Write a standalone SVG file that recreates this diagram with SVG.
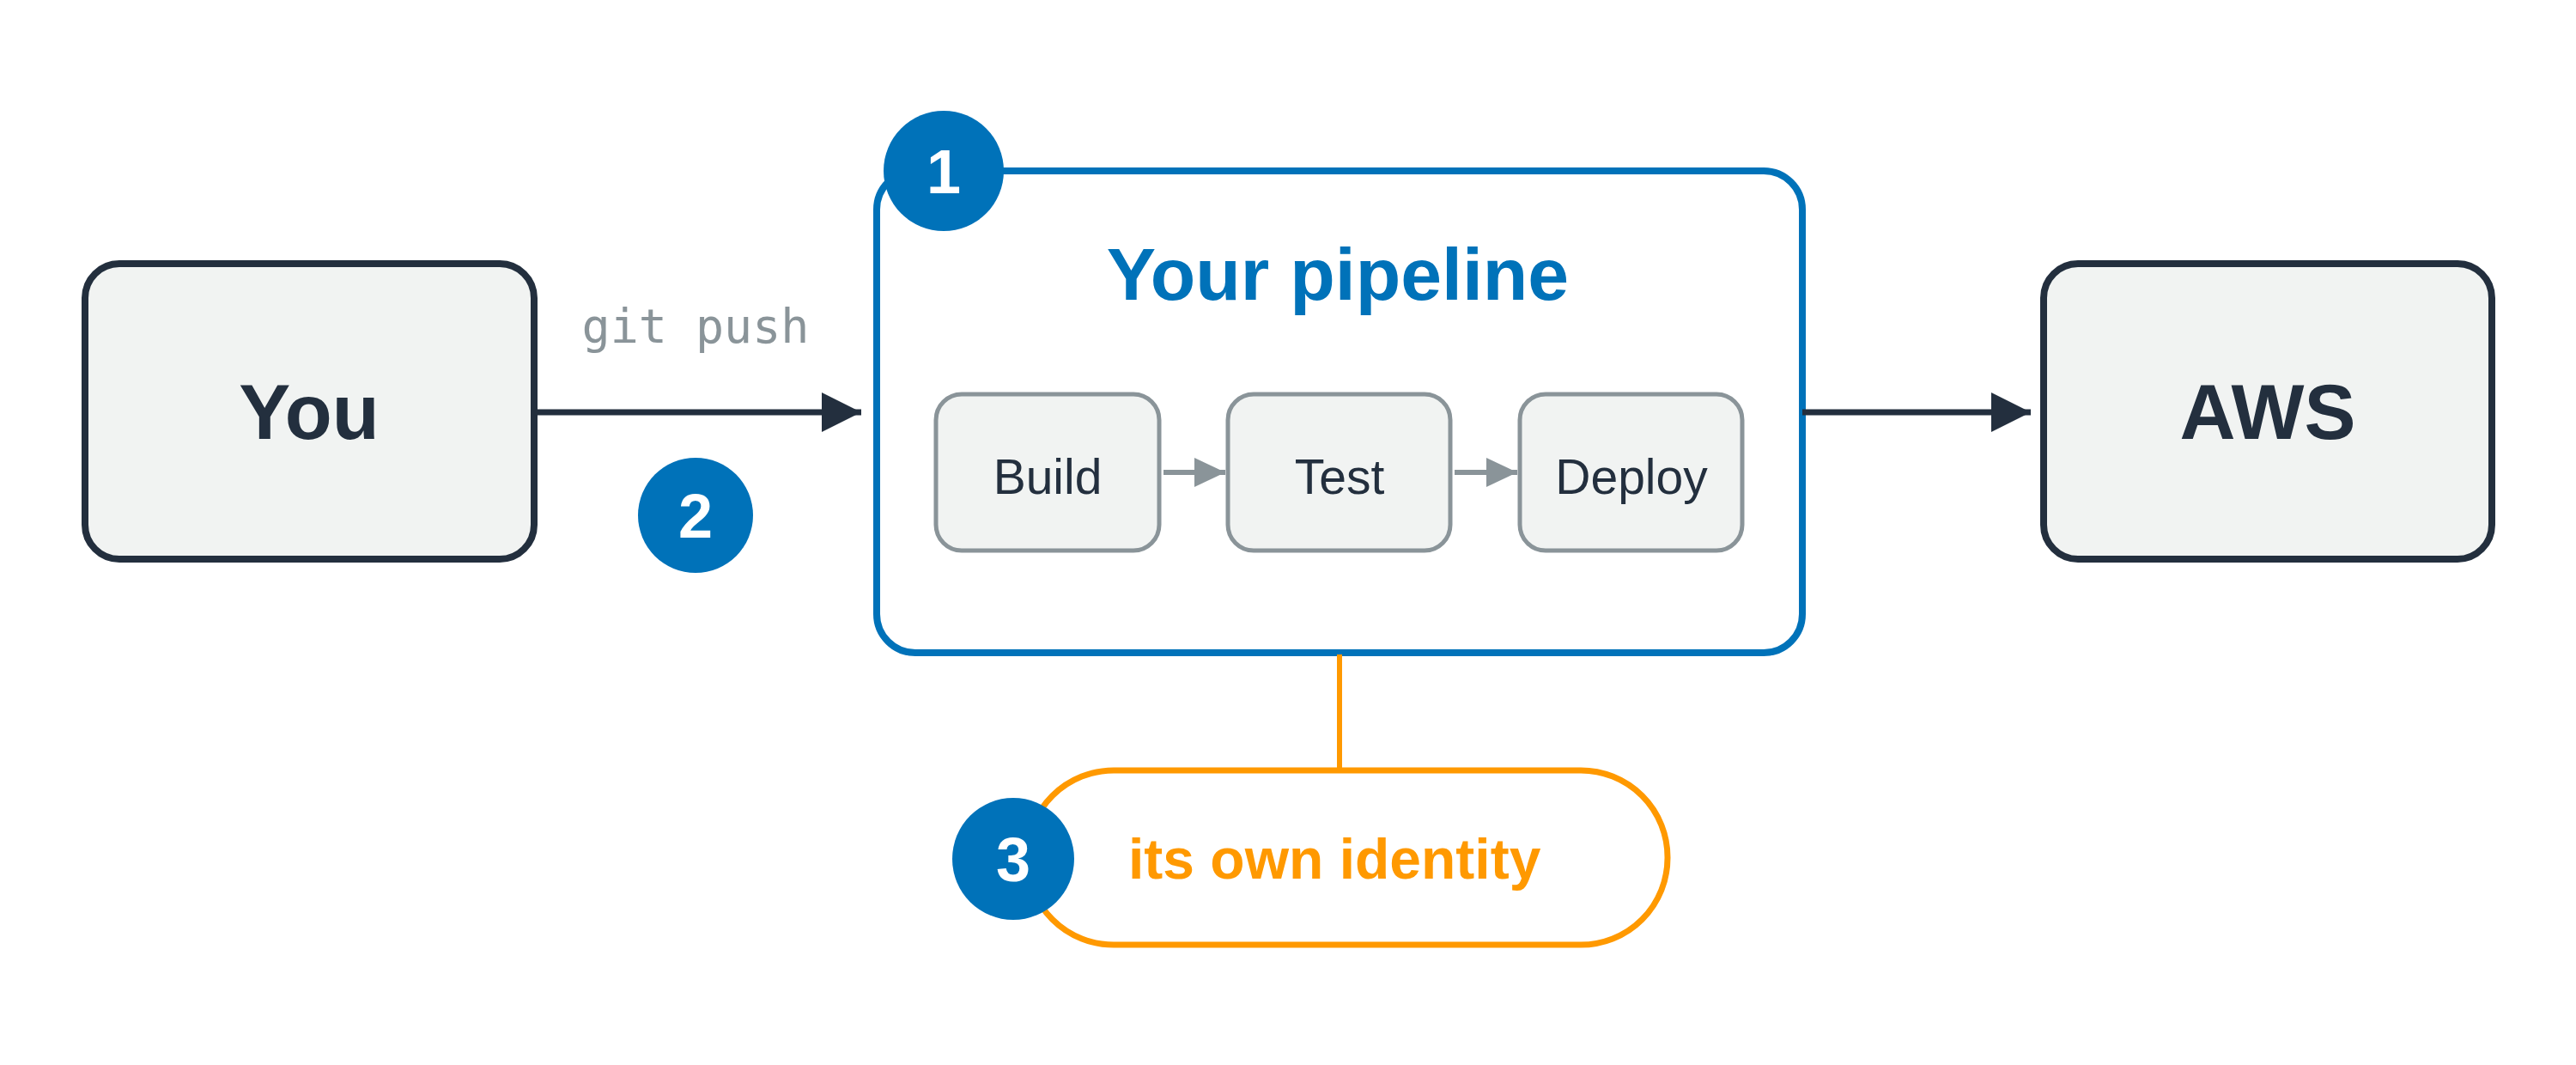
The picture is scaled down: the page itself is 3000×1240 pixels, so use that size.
<svg xmlns="http://www.w3.org/2000/svg" width="3000" height="1240" viewBox="0 0 3000 1240">
<defs>
<style>
.main{fill:#f1f3f2;stroke:#232f3e;stroke-width:8}
.step{fill:#f1f3f2;stroke:#8a9499;stroke-width:5}
.t{font-family:"Liberation Sans",Arial,sans-serif}
.badge{fill:#0072b9}
.bt{font-family:"Liberation Sans",Arial,sans-serif;font-weight:bold;font-size:72px;fill:#fff;text-anchor:middle}
</style>
<marker id="ah" markerUnits="userSpaceOnUse" markerWidth="46" markerHeight="46" refX="46" refY="23" orient="auto"><path d="M0,0 L46,23 L0,46 Z" fill="#232f3e"/></marker>
<marker id="ahg" markerUnits="userSpaceOnUse" markerWidth="36" markerHeight="34" refX="36" refY="17" orient="auto"><path d="M0,0 L36,17 L0,34 Z" fill="#8a9499"/></marker>
</defs>
<rect width="3000" height="1240" fill="#fff"/>
<g id="you"><rect x="99" y="307" width="523" height="344" rx="40" class="main"/>
<text x="360" y="511" class="t" font-size="90" font-weight="bold" fill="#232f3e" text-anchor="middle">You</text></g>
<g id="pipeline"><rect x="1021" y="199" width="1078" height="561" rx="45" fill="#fff" stroke="#0072b9" stroke-width="8"/>
<text x="1558" y="349" class="t" font-size="86" font-weight="bold" fill="#0072b9" text-anchor="middle">Your pipeline</text></g>
<g id="build"><rect x="1090" y="459" width="260" height="182" rx="30" class="step"/>
<text x="1220" y="575" class="t" font-size="57" fill="#232f3e" text-anchor="middle">Build</text></g>
<g id="test"><rect x="1430" y="459" width="259" height="182" rx="30" class="step"/>
<text x="1560" y="575" class="t" font-size="57" fill="#232f3e" text-anchor="middle">Test</text></g>
<g id="deploy"><rect x="1770" y="459" width="259" height="182" rx="30" class="step"/>
<text x="1900" y="575" class="t" font-size="57" fill="#232f3e" text-anchor="middle">Deploy</text></g>
<g id="aws"><rect x="2380" y="307" width="522" height="344" rx="40" class="main"/>
<text x="2641" y="511" class="t" font-size="90" font-weight="bold" fill="#232f3e" text-anchor="middle">AWS</text></g>
<g id="connectors">
<line x1="622" y1="480" x2="1003" y2="480" stroke="#232f3e" stroke-width="7" marker-end="url(#ah)"/>
<line x1="2099" y1="480" x2="2365" y2="480" stroke="#232f3e" stroke-width="7" marker-end="url(#ah)"/>
<line x1="1355" y1="550" x2="1427" y2="550" stroke="#8a9499" stroke-width="6" marker-end="url(#ahg)"/>
<line x1="1694" y1="550" x2="1767" y2="550" stroke="#8a9499" stroke-width="6" marker-end="url(#ahg)"/>
<line x1="1560" y1="762" x2="1560" y2="897" stroke="#ff9900" stroke-width="6"/>
<text x="810" y="399" font-size="55" fill="#8a9499" text-anchor="middle" style="font-family:'DejaVu Sans Mono','Liberation Mono',monospace">git push</text>
</g>
<g id="identity"><rect x="1196" y="897" width="746" height="203" rx="101" fill="#fff" stroke="#ff9900" stroke-width="7"/>
<text x="1314" y="1023" class="t" font-size="66" font-weight="bold" fill="#ff9900">its own identity</text></g>
<g id="badge1"><circle cx="1099" cy="199" r="70" class="badge"/><text x="1099" y="225" class="bt">1</text></g>
<g id="badge2"><circle cx="810" cy="600" r="67" class="badge"/><text x="810" y="626" class="bt">2</text></g>
<g id="badge3"><circle cx="1180" cy="1000" r="71" class="badge"/><text x="1180" y="1026" class="bt">3</text></g>
</svg>
